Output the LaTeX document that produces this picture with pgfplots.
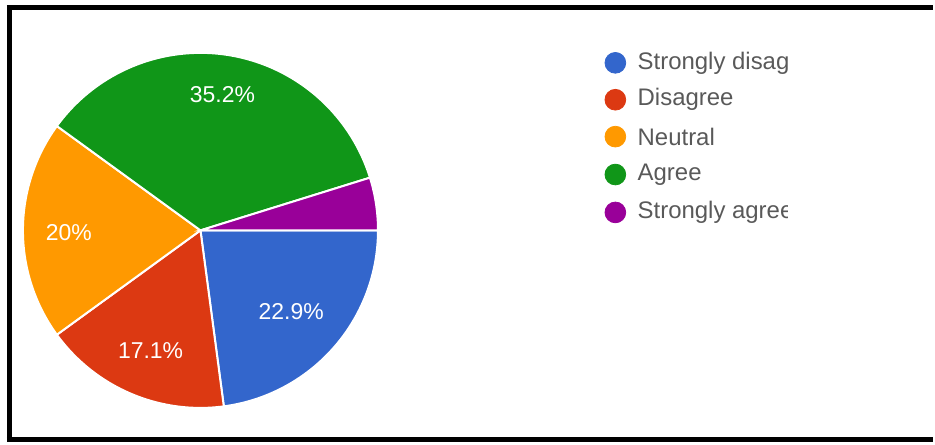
\documentclass[border=0pt]{standalone}
\usepackage{pgfplots}
\pgfplotsset{compat=1.18}
\usepackage{fontspec}
\setmainfont{Liberation Sans}
\definecolor{cBlue}{HTML}{3366CC}
\definecolor{cRed}{HTML}{DC3912}
\definecolor{cOrange}{HTML}{FF9900}
\definecolor{cGreen}{HTML}{109618}
\definecolor{cPurple}{HTML}{990099}
\definecolor{legtext}{HTML}{595959}
% percentages of the five answers
\def\pSD{22.9}\def\pD{17.1}\def\pN{20}\def\pA{35.2}\def\pSA{4.8}
\begin{document}
\begin{tikzpicture}
\pgfmathsetmacro{\aA}{0}
\pgfmathsetmacro{\aB}{\aA-3.6*\pSD}
\pgfmathsetmacro{\aC}{\aB-3.6*\pD}
\pgfmathsetmacro{\aD}{\aC-3.6*\pN}
\pgfmathsetmacro{\aE}{\aD-3.6*\pA}
\pgfmathsetmacro{\aF}{\aE-3.6*\pSA}
\def\cx{201}\def\cy{212}\def\R{178}
\begin{axis}[
  width=467.5pt, height=221.5pt, scale only axis,
  xmin=0, xmax=935, ymin=0, ymax=443,
  hide axis, clip=false,
]
\path (axis cs:0,0) rectangle (axis cs:935,443);
% pie slices
\addplot[fill=cBlue, draw=white, line width=1pt, domain=\aB:\aA, samples=60, variable=\t]
  ({\cx+\R*cos(\t)},{\cy+\R*sin(\t)}) -- (axis cs:\cx,\cy) -- cycle;
\addplot[fill=cRed, draw=white, line width=1pt, domain=\aC:\aB, samples=60, variable=\t]
  ({\cx+\R*cos(\t)},{\cy+\R*sin(\t)}) -- (axis cs:\cx,\cy) -- cycle;
\addplot[fill=cOrange, draw=white, line width=1pt, domain=\aD:\aC, samples=60, variable=\t]
  ({\cx+\R*cos(\t)},{\cy+\R*sin(\t)}) -- (axis cs:\cx,\cy) -- cycle;
\addplot[fill=cGreen, draw=white, line width=1pt, domain=\aE:\aD, samples=80, variable=\t]
  ({\cx+\R*cos(\t)},{\cy+\R*sin(\t)}) -- (axis cs:\cx,\cy) -- cycle;
\addplot[fill=cPurple, draw=white, line width=1pt, domain=\aF:\aE, samples=30, variable=\t]
  ({\cx+\R*cos(\t)},{\cy+\R*sin(\t)}) -- (axis cs:\cx,\cy) -- cycle;
% slice labels
\node[text=white, font=\fontsize{11.5}{13}\selectfont] at (axis cs:223,348) {35.2\%};
\node[text=white, font=\fontsize{11.5}{13}\selectfont] at (axis cs:69,210) {20\%};
\node[text=white, font=\fontsize{11.5}{13}\selectfont] at (axis cs:292,131) {22.9\%};
\node[text=white, font=\fontsize{11.5}{13}\selectfont] at (axis cs:151,91) {17.1\%};
% legend markers
\addplot[only marks, mark=*, mark size=5.2pt, color=cBlue] coordinates {(617,380)};
\addplot[only marks, mark=*, mark size=5.2pt, color=cRed] coordinates {(617,343)};
\addplot[only marks, mark=*, mark size=5.2pt, color=cOrange] coordinates {(617,306)};
\addplot[only marks, mark=*, mark size=5.2pt, color=cGreen] coordinates {(617,268)};
\addplot[only marks, mark=*, mark size=5.2pt, color=cPurple] coordinates {(617,230)};
% legend texts (clipped as in the original)
\begin{scope}
\clip (axis cs:600,0) rectangle (axis cs:790,443);
\node[anchor=west, inner sep=0pt, text=legtext, font=\fontsize{12}{14}\selectfont] at (axis cs:639,380) {Strongly disagree};
\node[anchor=west, inner sep=0pt, text=legtext, font=\fontsize{12}{14}\selectfont] at (axis cs:639,343) {Disagree};
\node[anchor=west, inner sep=0pt, text=legtext, font=\fontsize{12}{14}\selectfont] at (axis cs:639,306) {Neutral};
\node[anchor=west, inner sep=0pt, text=legtext, font=\fontsize{12}{14}\selectfont] at (axis cs:639,268) {Agree};
\node[anchor=west, inner sep=0pt, text=legtext, font=\fontsize{12}{14}\selectfont] at (axis cs:639,230) {Strongly agree};
\end{scope}
% frame
\draw[black, line width=2.5pt] (axis cs:9.5,0) -- (axis cs:9.5,435.5);
\draw[black, line width=2.5pt] (axis cs:7,435.5) -- (axis cs:935,435.5);
\draw[black, line width=2.5pt] (axis cs:7,2.5) -- (axis cs:935,2.5);
\end{axis}
\end{tikzpicture}
\end{document}
